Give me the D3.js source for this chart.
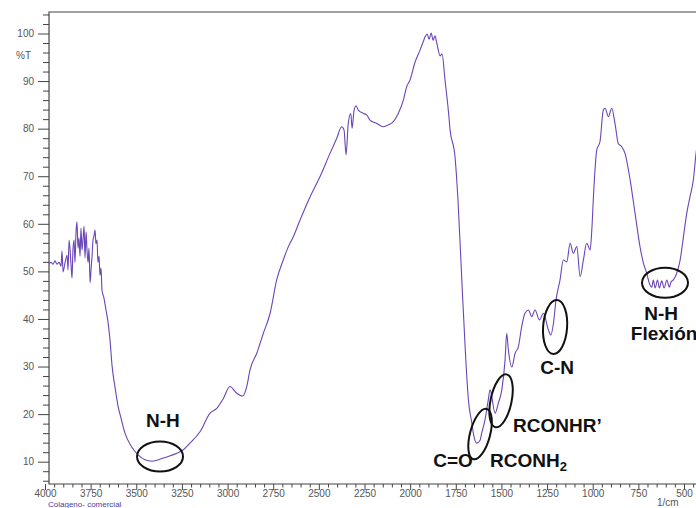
<!DOCTYPE html>
<html>
<head>
<meta charset="utf-8">
<script src="https://cdn.jsdelivr.net/npm/d3@7"></script>
<style>
  body { margin: 0; background: #fff; }
  svg { display: block; font-family: 'Liberation Sans', Arial, sans-serif; }
  .axis text { font-size: 10px; fill: #555; font-family: 'Liberation Sans', Arial, sans-serif; }
  .axis line { stroke: #444; }
  .band-label { font-size: 19px; font-weight: bold; fill: #111; }
  .band-ring { fill: none; stroke: #111; stroke-width: 2; }
</style>
</head>
<body>
<div id="ftir"></div>
<script>
// spectrum (1/cm, %T)
const wavenumbers = [
  3978, 3967, 3956, 3945, 3934, 3923, 3912, 3907, 3901, 3890, 3879, 3874, 3868, 3857, 3852, 3847,
  3841, 3836, 3830, 3825, 3819, 3814, 3808, 3803, 3797, 3792, 3786, 3781, 3775, 3770, 3764, 3759,
  3753, 3748, 3743, 3737, 3732, 3726, 3721, 3715, 3710, 3704, 3699, 3693, 3688, 3677, 3666, 3655,
  3644, 3633, 3616, 3600, 3584, 3562, 3525, 3489, 3452, 3415, 3379, 3333, 3278, 3242, 3206, 3151,
  3096, 3059, 3023, 2987, 2950, 2917, 2895, 2877, 2840, 2804, 2767, 2731, 2695, 2667, 2640, 2603,
  2548, 2494, 2439, 2402, 2375, 2362, 2351, 2339, 2325, 2318, 2307, 2296, 2284, 2256, 2238, 2220,
  2183, 2147, 2119, 2092, 2065, 2037, 2019, 2001, 1973, 1946, 1929, 1918, 1907, 1896, 1885, 1874,
  1864, 1853, 1836, 1825, 1809, 1791, 1781, 1754, 1738, 1717, 1699, 1681, 1662, 1654, 1635, 1617,
  1608, 1590, 1572, 1562, 1535, 1517, 1498, 1480, 1471, 1462, 1443, 1425, 1407, 1389, 1371, 1352,
  1334, 1316, 1292, 1270, 1243, 1230, 1215, 1201, 1179, 1161, 1142, 1124, 1106, 1087, 1069, 1051,
  1033, 1014, 1005, 996, 978, 960, 942, 932, 914, 896, 878, 860, 841, 823, 795, 768,
  741, 722, 704, 690, 676, 668, 658, 645, 635, 622, 609, 594, 580, 571, 558, 540,
  521, 503, 485, 467, 449, 434, 412
];
const transmittance = [
  51.7, 51.9, 51.5, 52.2, 51.5, 51.9, 51.1, 54.3, 49.9, 51.9, 53.4, 50.3, 56.6, 51.1, 48.6, 54.5,
  56.6, 51.9, 58.3, 60.4, 54.9, 57.0, 53.2, 59.1, 54.5, 56.6, 59.5, 52.8, 58.3, 54.5, 51.9, 54.9,
  47.6, 50.3, 52.8, 56.6, 57.4, 58.7, 55.8, 56.6, 51.9, 53.2, 49.2, 50.7, 46.1, 44.4, 41.9, 39.4,
  35.6, 30.3, 25.5, 21.7, 19.2, 16.0, 13.1, 11.4, 10.4, 10.1, 10.4, 11.0, 11.8, 12.5, 13.9, 16.3,
  20.2, 21.2, 23.3, 25.8, 24.4, 23.8, 25.8, 29.3, 32.8, 37.0, 41.2, 48.2, 52.4, 55.2, 57.3, 60.8,
  65.7, 69.9, 74.8, 78.0, 80.4, 79.7, 74.5, 81.1, 83.2, 80.1, 83.9, 84.8, 83.9, 83.2, 82.9, 81.8,
  81.1, 80.4, 80.8, 81.5, 83.2, 86.0, 88.8, 90.2, 94.0, 96.5, 98.2, 99.3, 99.9, 98.8, 100.1, 98.6,
  99.5, 97.8, 95.3, 95.7, 90.2, 83.9, 79.7, 74.0, 65.0, 48.2, 34.2, 23.0, 18.1, 16.0, 13.9, 14.5,
  16.0, 18.8, 23.0, 25.1, 20.2, 22.3, 25.1, 31.4, 37.0, 33.5, 29.9, 32.8, 34.2, 38.4, 41.2, 41.9,
  40.5, 41.9, 39.8, 41.2, 37.7, 36.6, 39.1, 44.0, 48.2, 52.4, 52.0, 55.9, 53.8, 55.2, 48.9, 52.4,
  55.9, 54.5, 58.7, 65.7, 75.5, 77.3, 83.9, 84.3, 82.5, 84.3, 81.1, 76.9, 76.2, 74.8, 69.2, 62.2,
  55.2, 51.7, 49.6, 47.5, 46.7, 48.2, 46.5, 48.2, 46.5, 48.0, 46.5, 48.2, 46.7, 47.8, 48.2, 49.6,
  52.4, 57.3, 62.2, 65.7, 69.2, 74.8, 79.7
];

const xMajorTicks = [4000, 3750, 3500, 3250, 3000, 2750, 2500, 2250, 2000, 1750, 1500, 1250, 1000, 750, 500];
const xMinorTicks = d3.range(3950, 400, -50).filter(v => v % 250 !== 0);
const yMajorTicks = [10, 20, 30, 40, 50, 60, 70, 80, 90, 100];
const yMinorTicks = d3.range(6, 105, 2).filter(v => v % 10 !== 0);

// annotation rings and labels (position in 1/cm, %T)
const bandRings = [
  { wn: 3370, t: 11.1, rx: 23, ry: 15, rot: 0 },
  { wn: 1617, t: 15.8, rx: 10, ry: 26, rot: 15 },
  { wn: 1502, t: 22.8, rx: 10.5, ry: 27, rot: 12 },
  { wn: 1206, t: 38.3, rx: 12, ry: 27, rot: 4 },
  { wn: 604, t: 47.6, rx: 23, ry: 15, rot: 0 }
];
const bandLabels = [
  { text: 'N-H', wn: 3354, t: 17.3, anchor: 'middle' },
  { text: 'C=O', wn: 1765, t: 8.9, anchor: 'middle' },
  { text: 'RCONHR\u2019', wn: 1436, t: 16.3, anchor: 'start' },
  { text: 'C-N', wn: 1195, t: 28.4, anchor: 'middle' },
  { text: 'N-H', wn: 625, t: 39.8, anchor: 'middle' },
  { text: 'Flexión', wn: 609, t: 35.6, anchor: 'middle' }
];

const W = 696, H = 508;
const x = d3.scaleLinear().domain([4000, 500]).range([45, 684]);
const y = d3.scaleLinear().domain([100, 10]).range([33.5, 461.7]);
const plotLeft = x(3978), plotTop = 12, plotBottom = 484;

const svg = d3.select('#ftir').append('svg')
  .attr('width', W)
  .attr('height', H);

// frame
svg.append('path')
  .attr('d', `M${W + 5},${plotTop}H${plotLeft}V${plotBottom}H${W + 5}`)
  .attr('fill', 'none')
  .attr('stroke', '#444')
  .attr('stroke-width', 1.2);

// y axis
const gY = svg.append('g').attr('class', 'axis').attr('transform', `translate(${plotLeft},0)`);
gY.append('g').call(d3.axisLeft(y).tickValues(yMinorTicks).tickSize(6).tickFormat(''));
gY.append('g').call(d3.axisLeft(y).tickValues(yMajorTicks).tickSize(11).tickPadding(4));
gY.selectAll('.domain').remove();
gY.append('text')
  .attr('x', -18)
  .attr('y', y(95.3))
  .attr('dy', '0.32em')
  .attr('text-anchor', 'end')
  .text('%T');

// x axis
const gX = svg.append('g').attr('class', 'axis').attr('transform', `translate(0,${plotBottom})`);
gX.append('g').call(d3.axisBottom(x).tickValues(xMinorTicks).tickSize(3.5).tickFormat(''));
gX.append('g').call(d3.axisBottom(x).tickValues(xMajorTicks).tickSize(6).tickPadding(-0.2).tickFormat(d3.format('d')));
gX.selectAll('.domain').remove();
gX.append('text')
  .attr('x', 657)
  .attr('y', 21.5)
  .attr('font-size', 8)
  .attr('text-anchor', 'start')
  .text('1/cm');

svg.append('text')
  .attr('x', 48)
  .attr('y', 506.5)
  .attr('font-size', 8)
  .attr('fill', '#4b3fa6')
  .text('Colageno- comercial');

// spectrum
const line = d3.line()
  .x((d, i) => x(wavenumbers[i]))
  .y(d => y(d))
  .curve(d3.curveMonotoneX);

svg.append('path')
  .datum(transmittance)
  .attr('d', line)
  .attr('fill', 'none')
  .attr('stroke', '#6a45b8')
  .attr('stroke-width', 1.1);

// annotations
svg.append('g').selectAll('ellipse')
  .data(bandRings)
  .join('ellipse')
  .attr('class', 'band-ring')
  .attr('rx', d => d.rx)
  .attr('ry', d => d.ry)
  .attr('transform', d => `translate(${x(d.wn)},${y(d.t)}) rotate(${d.rot})`);

svg.append('g').selectAll('text')
  .data(bandLabels)
  .join('text')
  .attr('class', 'band-label')
  .attr('x', d => x(d.wn))
  .attr('y', d => y(d.t))
  .attr('text-anchor', d => d.anchor)
  .text(d => d.text);

const amide = svg.append('text')
  .attr('class', 'band-label')
  .attr('x', x(1562))
  .attr('y', y(8.9));
amide.append('tspan').text('RCONH');
amide.append('tspan').attr('font-size', 13).attr('dy', 4).text('2');
</script>
</body>
</html>
